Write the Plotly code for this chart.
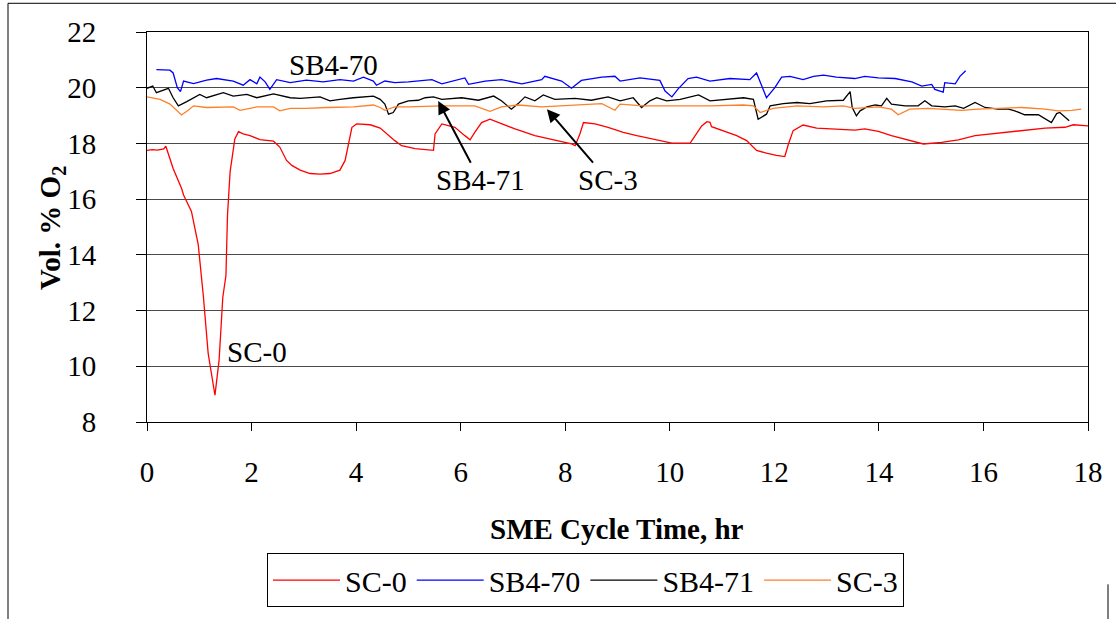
import plotly.graph_objects as go

# ---------------- data ----------------
sc0_t = [0, 0.1, 0.2, 0.32, 0.36, 0.5, 0.66, 0.7, 0.85, 0.98, 1.08, 1.17, 1.30, 1.38, 1.45, 1.51,
         1.54, 1.59, 1.68, 1.75, 1.84, 1.97, 2.16, 2.42, 2.54, 2.67, 2.77, 2.93, 3.12, 3.31, 3.5,
         3.69, 3.79, 3.85, 3.92, 4.01, 4.27, 4.46, 4.55, 4.74, 4.87, 5.13, 5.48, 5.51, 5.64, 5.89,
         6.08, 6.18, 6.27, 6.4, 6.56, 6.72, 7.04, 7.42, 7.8, 8.12, 8.19, 8.28, 8.35, 8.57, 8.82,
         9.11, 9.37, 9.68, 10.04, 10.39, 10.48, 10.61, 10.71, 10.77, 10.8, 11.02, 11.28, 11.47,
         11.66, 11.85, 12.04, 12.2, 12.27, 12.36, 12.55, 12.81, 13.19, 13.54, 13.73, 13.99, 14.24,
         14.56, 14.85, 15.2, 15.52, 15.84, 16.22, 16.67, 17.18, 17.56, 17.72, 18.0]
sc0_v = [17.75, 17.78, 17.76, 17.8, 17.9, 17.1, 16.39, 16.15, 15.56, 14.37, 12.48, 10.46, 8.96,
         10.24, 12.48, 13.26, 15.44, 16.99, 18.16, 18.42, 18.34, 18.28, 18.14, 18.08, 17.87, 17.39,
         17.21, 17.04, 16.92, 16.9, 16.92, 17.04, 17.39, 17.98, 18.58, 18.7, 18.67, 18.55, 18.4,
         18.1, 17.92, 17.81, 17.75, 18.34, 18.7, 18.58, 18.28, 18.13, 18.4, 18.75, 18.87, 18.75,
         18.52, 18.28, 18.13, 17.98, 17.92, 18.34, 18.75, 18.7, 18.58, 18.4, 18.28, 18.16, 18.01,
         18.01, 18.28, 18.63, 18.78, 18.76, 18.6, 18.46, 18.28, 18.1, 17.75, 17.65, 17.57, 17.53,
         17.98, 18.46, 18.66, 18.55, 18.52, 18.48, 18.52, 18.43, 18.28, 18.13, 17.98, 18.04, 18.13,
         18.28, 18.36, 18.46, 18.55, 18.58, 18.67, 18.63]

sb470_t = [0.18, 0.44, 0.5, 0.58, 0.64, 0.7, 0.89, 1.14, 1.33, 1.52, 1.65, 1.84, 1.97, 2.1, 2.16,
           2.26, 2.35, 2.48, 2.74, 3.05, 3.37, 3.69, 3.95, 4.14, 4.33, 4.39, 4.55, 4.74, 5.0, 5.45,
           5.64, 6.08, 6.15, 6.47, 6.78, 7.17, 7.55, 7.61, 7.93, 8.12, 8.31, 8.7, 8.95, 9.05, 9.43,
           9.81, 9.91, 10.04, 10.16, 10.35, 10.51, 10.77, 11.15, 11.53, 11.66, 11.85, 12.01, 12.14,
           12.3, 12.55, 12.75, 12.94, 13.19, 13.54, 13.73, 13.99, 14.31, 14.63, 14.82, 15.01, 15.07,
           15.23, 15.26, 15.46, 15.55, 15.66]
sb470_v = [20.65, 20.63, 20.53, 20.0, 19.86, 20.24, 20.15, 20.27, 20.33, 20.29, 20.24, 20.09, 20.29,
           20.14, 20.38, 20.21, 19.94, 20.29, 20.18, 20.27, 20.21, 20.29, 20.24, 20.38, 20.24, 20.09,
           20.24, 20.18, 20.21, 20.29, 20.14, 20.35, 20.12, 20.24, 20.29, 20.14, 20.29, 20.41, 20.24,
           19.98, 20.26, 20.38, 20.41, 20.24, 20.35, 20.26, 19.88, 19.67, 19.96, 20.33, 20.38, 20.24,
           20.33, 20.29, 20.53, 19.64, 20.0, 20.38, 20.41, 20.29, 20.41, 20.45, 20.38, 20.33, 20.41,
           20.35, 20.33, 20.21, 20.06, 20.12, 19.94, 19.84, 20.18, 20.14, 20.41, 20.61]

sb471_t = [0, 0.11, 0.18, 0.41, 0.5, 0.6, 0.76, 1.01, 1.14, 1.46, 1.65, 1.91, 2.1, 2.42, 2.74, 2.93,
           3.31, 3.5, 3.69, 3.95, 4.33, 4.46, 4.55, 4.62, 4.71, 4.81, 5.0, 5.19, 5.32, 5.48, 5.64,
           6.02, 6.34, 6.63, 6.78, 6.97, 7.1, 7.23, 7.42, 7.58, 7.8, 8.19, 8.5, 8.82, 9.05, 9.3, 9.46,
           9.62, 9.75, 9.94, 10.2, 10.55, 10.77, 11.09, 11.41, 11.6, 11.69, 11.85, 11.92, 12.17,
           12.43, 12.68, 13.0, 13.32, 13.45, 13.49, 13.57, 13.64, 13.77, 13.93, 14.05, 14.15, 14.24,
           14.5, 14.75, 14.88, 15.01, 15.26, 15.46, 15.62, 15.84, 16.03, 16.28, 16.48, 16.6, 16.79,
           17.05, 17.3, 17.4, 17.46, 17.64]
sb471_v = [19.98, 20.06, 19.82, 19.98, 19.64, 19.35, 19.5, 19.76, 19.64, 19.82, 19.7, 19.76, 19.64,
           19.78, 19.64, 19.62, 19.67, 19.53, 19.58, 19.64, 19.7, 19.58, 19.41, 19.05, 19.11, 19.41,
           19.53, 19.55, 19.64, 19.67, 19.58, 19.64, 19.55, 19.7, 19.53, 19.23, 19.43, 19.67, 19.53,
           19.74, 19.58, 19.62, 19.55, 19.67, 19.53, 19.64, 19.29, 19.53, 19.64, 19.53, 19.58, 19.74,
           19.53, 19.58, 19.64, 19.58, 18.87, 19.05, 19.35, 19.43, 19.47, 19.43, 19.53, 19.55, 19.86,
           19.29, 18.99, 19.17, 19.31, 19.38, 19.35, 19.62, 19.41, 19.35, 19.35, 19.53, 19.35, 19.31,
           19.35, 19.26, 19.47, 19.29, 19.23, 19.23, 19.17, 19.03, 19.03, 18.75, 19.07, 19.11, 18.81]

sc3_t = [0, 0.25, 0.44, 0.57, 0.66, 0.79, 0.89, 1.14, 1.65, 1.78, 2.1, 2.42, 2.54, 2.74, 3.05, 3.44,
         3.82, 3.95, 4.33, 4.46, 4.55, 4.62, 4.74, 5.0, 5.64, 6.27, 6.56, 6.78, 7.1, 7.55, 8.19, 8.7,
         8.95, 9.05, 9.49, 10.13, 10.77, 11.41, 11.6, 11.73, 11.98, 12.43, 12.94, 13.32, 13.54,
         13.99, 14.24, 14.37, 14.59, 14.94, 15.58, 15.9, 16.22, 16.73, 17.18, 17.43, 17.69, 17.87]
sc3_v = [19.67, 19.58, 19.41, 19.17, 19.02, 19.19, 19.35, 19.29, 19.31, 19.19, 19.31, 19.31, 19.17,
         19.26, 19.26, 19.29, 19.29, 19.31, 19.38, 19.29, 19.19, 19.23, 19.31, 19.31, 19.35, 19.35,
         19.15, 19.31, 19.38, 19.31, 19.38, 19.43, 19.19, 19.41, 19.35, 19.35, 19.35, 19.38, 19.35,
         19.11, 19.26, 19.35, 19.31, 19.35, 19.26, 19.31, 19.23, 19.03, 19.23, 19.26, 19.19, 19.23,
         19.26, 19.29, 19.23, 19.17, 19.19, 19.23]

x_ticks = [0, 2, 4, 6, 8, 10, 12, 14, 16, 18]
y_ticks = [8, 10, 12, 14, 16, 18, 20, 22]

FONT = "Liberation Serif"

fig = go.Figure()
fig.add_trace(go.Scatter(x=sc0_t, y=sc0_v, mode="lines", name="SC-0",
                         line=dict(color="#FF0000", width=1.3)))
fig.add_trace(go.Scatter(x=sb470_t, y=sb470_v, mode="lines", name="SB4-70",
                         line=dict(color="#0000FF", width=1.3)))
fig.add_trace(go.Scatter(x=sb471_t, y=sb471_v, mode="lines", name="SB4-71",
                         line=dict(color="#000000", width=1.3)))
fig.add_trace(go.Scatter(x=sc3_t, y=sc3_v, mode="lines", name="SC-3",
                         line=dict(color="#FF7F27", width=1.3)))

L, R, T, B = 147, 28, 32, 193
W, H = 1116, 619
pw, ph = W - L - R, H - T - B


def px(xp):
    return (xp - L) / pw


def py(yp):
    return (H - B - yp) / ph


fig.update_layout(
    width=W, height=H,
    margin=dict(l=L, r=R, t=T, b=B),
    paper_bgcolor="white", plot_bgcolor="white",
    font=dict(family=FONT, size=29, color="black"),
    showlegend=True,
    legend=dict(orientation="h", x=px(267), y=py(613), xanchor="left", yanchor="bottom",
                bordercolor="black", borderwidth=1, font=dict(size=30, family=FONT),
                bgcolor="white", itemwidth=67),
    xaxis=dict(range=[0, 18], tickvals=x_ticks, showgrid=False, zeroline=False,
               showline=True, linecolor="black", linewidth=1, mirror=True,
               ticks="outside", ticklen=8, tickcolor="black",
               ticklabelstandoff=16, tickfont=dict(size=29, family=FONT)),
    yaxis=dict(range=[8, 22], tickvals=y_ticks, showgrid=True, gridcolor="#4a4a4a",
               gridwidth=1, zeroline=False, showline=True, linecolor="black", linewidth=1,
               mirror=True, ticks="outside", ticklen=10, tickcolor="black",
               ticklabelstandoff=34, tickfont=dict(size=29, family=FONT)),
)

annotations = [
    dict(text="<b>SME Cycle Time, hr</b>", xref="paper", yref="paper", x=px(617), y=py(534),
         xanchor="center", yanchor="middle", showarrow=False, font=dict(size=29, family=FONT)),
    dict(text="<b>Vol. % O<sub>2</sub></b>", xref="paper", yref="paper", x=px(52), y=py(230),
         xanchor="center", yanchor="middle", textangle=-90, showarrow=False,
         font=dict(size=29, family=FONT)),
    dict(text="SB4-70", x=3.56, y=20.83, xref="x", yref="y", showarrow=False,
         font=dict(size=29, family=FONT)),
    dict(text="SC-0", x=2.10, y=10.53, xref="x", yref="y", showarrow=False,
         font=dict(size=29, family=FONT)),
    # labels with arrows pointing at their curves
    dict(text="SB4-71", x=5.57, y=19.52, ax=6.37, ay=16.68, xref="x", yref="y",
         axref="x", ayref="y", showarrow=True, arrowhead=2, arrowsize=1.3, arrowwidth=2,
         arrowcolor="black", font=dict(size=29, family=FONT)),
    dict(text="SC-3", x=7.65, y=19.23, ax=8.82, ay=16.68, xref="x", yref="y",
         axref="x", ayref="y", showarrow=True, arrowhead=2, arrowsize=1.3, arrowwidth=2,
         arrowcolor="black", font=dict(size=29, family=FONT)),
]
fig.update_layout(annotations=annotations)

# outer chart frame
fig.add_shape(type="line", xref="paper", yref="paper", x0=px(8), x1=px(1116), y0=py(3), y1=py(3),
              line=dict(color="black", width=1))
fig.add_shape(type="line", xref="paper", yref="paper", x0=px(8), x1=px(8), y0=py(3), y1=py(625),
              line=dict(color="black", width=1))
fig.add_shape(type="line", xref="paper", yref="paper", x0=px(1108), x1=px(1108), y0=py(590),
              y1=py(625), line=dict(color="black", width=1))

fig.write_html("out.html")
